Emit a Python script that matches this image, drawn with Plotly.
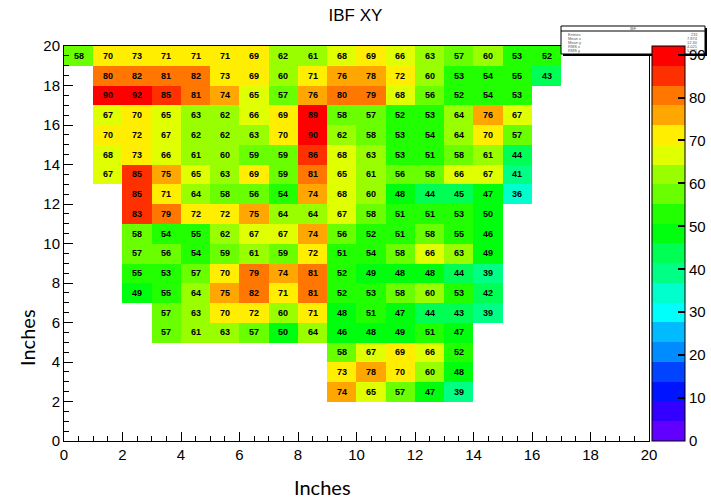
import plotly.graph_objects as go

N = None
# bin lower edges (inches); each bin is 1 inch wide
x_edges = list(range(0, 17))
y_edges = list(range(2, 20))

# z rows, bottom (y=2) to top (y=19); columns x=0..16
row_y2  = [N, N, N, N, N, N, N, N, N, 74, 65, 57, 47, 39, N, N, N]
row_y3  = [N, N, N, N, N, N, N, N, N, 73, 78, 70, 60, 48, N, N, N]
row_y4  = [N, N, N, N, N, N, N, N, N, 58, 67, 69, 66, 52, N, N, N]
row_y5  = [N, N, N, 57, 61, 63, 57, 50, 64, 46, 48, 49, 51, 47, N, N, N]
row_y6  = [N, N, N, 57, 63, 70, 72, 60, 71, 48, 51, 47, 44, 43, 39, N, N]
row_y7  = [N, N, 49, 55, 64, 75, 82, 71, 81, 52, 53, 58, 60, 53, 42, N, N]
row_y8  = [N, N, 55, 53, 57, 70, 79, 74, 81, 52, 49, 48, 48, 44, 39, N, N]
row_y9  = [N, N, 57, 56, 54, 59, 61, 59, 72, 51, 54, 58, 66, 63, 49, N, N]
row_y10 = [N, N, 58, 54, 55, 62, 67, 67, 74, 56, 52, 51, 58, 55, 46, N, N]
row_y11 = [N, N, 83, 79, 72, 72, 75, 64, 64, 67, 58, 51, 51, 53, 50, N, N]
row_y12 = [N, N, 85, 71, 64, 58, 56, 54, 74, 68, 60, 48, 44, 45, 47, 36, N]
row_y13 = [N, 67, 85, 75, 65, 63, 69, 59, 81, 65, 61, 56, 58, 66, 67, 41, N]
row_y14 = [N, 68, 73, 66, 61, 60, 59, 59, 86, 68, 63, 53, 51, 58, 61, 44, N]
row_y15 = [N, 70, 72, 67, 62, 62, 63, 70, 90, 62, 58, 53, 54, 64, 70, 57, N]
row_y16 = [N, 67, 70, 65, 63, 62, 66, 69, 89, 58, 57, 52, 53, 64, 76, 67, N]
row_y17 = [N, 90, 92, 85, 81, 74, 65, 57, 76, 80, 79, 68, 56, 52, 54, 53, N]
row_y18 = [N, 80, 82, 81, 82, 73, 69, 60, 71, 76, 78, 72, 60, 53, 54, 55, 43]
row_y19 = [58, 70, 73, 71, 71, 71, 69, 62, 61, 68, 69, 66, 63, 57, 60, 53, 52]

z = [row_y2, row_y3, row_y4, row_y5, row_y6, row_y7, row_y8, row_y9, row_y10,
     row_y11, row_y12, row_y13, row_y14, row_y15, row_y16, row_y17, row_y18, row_y19]

x_centers = [e + 0.5 for e in x_edges]
y_centers = [e + 0.5 for e in y_edges]

z_min, z_max = 0, 92
palette = ["#6200ff", "#3300ff", "#0014ff", "#0044ff", "#008bff", "#00bbff",
           "#00fffb", "#00ffcc", "#00ff85", "#00ff55", "#00ff0e", "#22ff00",
           "#69ff00", "#99ff00", "#e0ff00", "#ffee00", "#ffa700", "#ff7700",
           "#ff3000", "#ff0000"]
n = len(palette)
colorscale = []
for i, c in enumerate(palette):
    colorscale.append([i / n, c])
    colorscale.append([(i + 1) / n, c])

W, H = 711, 504
L, R, T, B = 64, 62, 46, 63
pw = W - L - R
ph = H - T - B

fig = go.Figure(go.Heatmap(
    x=x_centers, y=y_centers, z=z,
    zmin=z_min, zmax=z_max,
    colorscale=colorscale,
    texttemplate="<b>%{z}</b>",
    textfont=dict(size=9, color="black", family="Liberation Sans"),
    xgap=0, ygap=0,
    colorbar=dict(
        thickness=33, len=1, lenmode="fraction", y=0.5, yanchor="middle", ypad=0,
        x=1 + 3 / pw, xanchor="left", xpad=0,
        tickvals=list(range(0, 100, 10)), ticks="inside", ticklen=7,
        tickcolor="black", tickwidth=1.5,
        tickfont=dict(size=15, family="Liberation Sans", color="black"),
        outlinewidth=1, outlinecolor="black",
    ),
))

fig.update_layout(
    width=W, height=H,
    margin=dict(l=L, r=R, t=T, b=B, autoexpand=False),
    paper_bgcolor="white", plot_bgcolor="white",
    title=dict(text="IBF XY", x=0.5, xanchor="center", y=1 - 15 / H, yanchor="middle",
               font=dict(size=17, family="Liberation Sans", color="black")),
    font=dict(family="Liberation Sans", color="black"),
)

axis_common = dict(
    range=[0, 20], dtick=2, tick0=0, ticks="inside", ticklen=9, tickwidth=1,
    tickcolor="black", showline=True, linecolor="black", linewidth=1,
    mirror=True, showgrid=False, zeroline=False,
    tickfont=dict(size=15, family="Liberation Sans", color="black"),
    minor=dict(dtick=0.5, ticks="inside", ticklen=5, tickcolor="black", showgrid=False),
)
fig.update_xaxes(**axis_common)
fig.update_yaxes(**axis_common)

# axis titles (added text)
fig.add_annotation(text="Inches", xref="paper", yref="paper",
                   x=(322 - L) / pw, y=1 - (487 - T) / ph, showarrow=False,
                   font=dict(size=20, family="Lato", color="black"),
                   xanchor="center", yanchor="middle")
fig.add_annotation(text="Inches", xref="paper", yref="paper",
                   x=(27 - L) / pw, y=1 - (338 - T) / ph, showarrow=False, textangle=-90,
                   font=dict(size=20, family="Lato", color="black"),
                   xanchor="center", yanchor="middle")

# stats box
def px_x(p):
    return (p - L) / pw

def px_y(p):
    return 1 - (p - T) / ph

bx0, bx1, by0, by1 = 561, 705, 26, 54
fig.add_shape(type="rect", xref="paper", yref="paper",
              x0=px_x(bx0 + 2), x1=px_x(bx1 + 2), y0=px_y(by1 + 2), y1=px_y(by0 + 2),
              line=dict(width=0), fillcolor="black", layer="above")
fig.add_shape(type="rect", xref="paper", yref="paper",
              x0=px_x(bx0), x1=px_x(bx1), y0=px_y(by1), y1=px_y(by0),
              line=dict(width=1, color="black"), fillcolor="white", layer="above")
fig.add_shape(type="line", xref="paper", yref="paper",
              x0=px_x(bx0), x1=px_x(bx1), y0=px_y(31), y1=px_y(31),
              line=dict(width=1, color="black"), layer="above")
fig.add_annotation(text="IBF", xref="paper", yref="paper",
                   x=px_x((bx0 + bx1) / 2), y=px_y(28.5), showarrow=False,
                   font=dict(size=4, color="#555"), xanchor="center", yanchor="middle")
stat_names = ["Entries", "Mean x", "Mean y", "RMS x", "RMS y"]
stat_vals = ["231", "7.874", "12.30", "4.021", "5.372"]
for i, (nm, vl) in enumerate(zip(stat_names, stat_vals)):
    yy = 34.5 + i * 4.0
    fig.add_annotation(text=nm, xref="paper", yref="paper", x=px_x(bx0 + 5), y=px_y(yy),
                       showarrow=False, font=dict(size=4, color="#555"),
                       xanchor="left", yanchor="middle")
    fig.add_annotation(text=vl, xref="paper", yref="paper", x=px_x(bx1 - 5), y=px_y(yy),
                       showarrow=False, font=dict(size=4, color="#555"),
                       xanchor="right", yanchor="middle")

fig.write_html("out.html")
